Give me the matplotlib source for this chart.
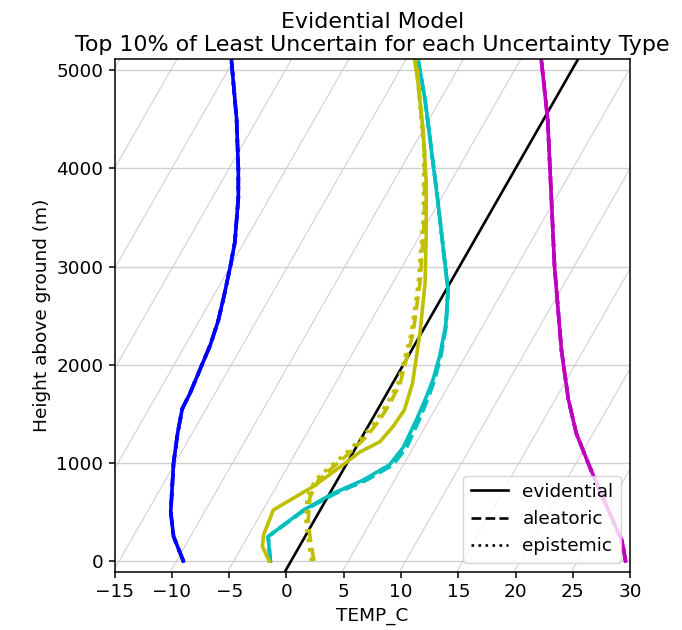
import numpy as np
import matplotlib
matplotlib.use('Agg')
import matplotlib.pyplot as plt
from matplotlib.lines import Line2D

# Profiles: heights (m) and temperatures (C)
blue_z = [0, 250, 500, 1000, 1300, 1550, 1700, 1950, 2200, 2450, 2700, 3000, 3250, 3700, 4000, 4500, 5100, 5200]
blue_t = [-9.0, -9.85, -10.1, -9.85, -9.5, -9.1, -8.45, -7.55, -6.65, -5.95, -5.45, -4.9, -4.5, -4.2, -4.2, -4.35, -4.8, -4.85]

magenta_z = [0, 200, 650, 950, 1300, 1650, 2150, 3000, 4000, 4500, 5100, 5200]
magenta_t = [29.6, 29.3, 27.6, 26.5, 25.3, 24.6, 24.0, 23.4, 23.0, 22.8, 22.25, 22.2]

cyan_z = [0, 250, 520, 690, 825, 980, 1160, 1440, 1670, 1850, 2100, 2400, 2760, 3170, 3680, 4190, 4700, 5100, 5200]
cyan_t = [-1.4, -1.6, 1.5, 4.1, 6.7, 9.0, 10.2, 11.35, 12.2, 12.8, 13.4, 13.9, 14.1, 13.7, 13.2, 12.65, 12.1, 11.5, 11.35]
cyan_t_alea = [-1.4, -1.6, 1.6, 4.3, 7.0, 9.3, 10.5, 11.6, 12.4, 12.95, 13.5, 13.95, 14.1, 13.7, 13.2, 12.65, 12.1, 11.5, 11.35]
cyan_t_epis = [-1.4, -1.6, 1.55, 4.2, 6.9, 9.2, 10.4, 11.5, 12.3, 12.9, 13.45, 13.9, 14.1, 13.7, 13.2, 12.65, 12.1, 11.5, 11.35]

yellow_z = [0, 150, 265, 520, 760, 960, 1110, 1215, 1370, 1540, 1810, 2320, 2830, 3340, 3850, 4360, 4860, 5100, 5200]
yellow_t = [-1.5, -2.1, -2.0, -1.15, 2.35, 4.7, 6.4, 8.15, 9.3, 10.3, 11.0, 11.65, 12.1, 12.2, 12.2, 11.95, 11.5, 11.2, 11.1]

yellow_z2 = [0, 250, 420, 650, 825, 960, 1100, 1270, 1440, 1610, 1800, 2320, 2830, 3500, 4190, 4700, 5100, 5200]
yellow_t_alea = [2.4, 2.05, 1.9, 2.05, 2.8, 4.1, 5.5, 7.0, 8.15, 9.05, 9.9, 11.05, 11.65, 12.05, 12.05, 11.65, 11.35, 11.3]
yellow_t_epis = [2.2, 1.85, 1.7, 1.8, 2.5, 3.8, 5.2, 6.7, 7.9, 8.8, 9.7, 10.9, 11.5, 11.95, 12.0, 11.6, 11.3, 11.25]

# skewed reference lines
skew_offset = 0.4      # C at ground for the black line
skew_rate = 0.0049     # C per metre
skew_starts = np.arange(-60, 35, 5)

x_ticks = [-15, -10, -5, 0, 5, 10, 15, 20, 25, 30]
y_ticks = [0, 1000, 2000, 3000, 4000, 5000]
legend_labels = ['evidential', 'aleatoric', 'epistemic']
styles = ['-', '--', ':']


def main():
    plt.rcParams['font.size'] = 13.3
    plt.rcParams['axes.linewidth'] = 1.1
    plt.rcParams['xtick.major.width'] = 1.1
    plt.rcParams['ytick.major.width'] = 1.1
    plt.rcParams['xtick.major.size'] = 4.5
    plt.rcParams['ytick.major.size'] = 4.5
    fig = plt.figure(figsize=(6.82, 6.30), dpi=100)
    ax = fig.add_axes([0.168, 0.092, 0.756, 0.814])

    zz = np.array([-200, 5300])
    for t0 in skew_starts:
        ax.plot(skew_offset + t0 + skew_rate * zz, zz, color='#cccccc', lw=0.7, zorder=1)
    ax.plot(skew_offset + skew_rate * zz, zz, color='black', lw=1.9, zorder=2)

    lw = 2.6
    for ls in styles:
        ax.plot(blue_t, blue_z, color='b', ls=ls, lw=lw)
        ax.plot(magenta_t, magenta_z, color='m', ls=ls, lw=lw)

    ax.plot(cyan_t, cyan_z, color='c', ls='-', lw=lw)
    ax.plot(cyan_t_alea, cyan_z, color='c', ls='--', lw=lw)
    ax.plot(cyan_t_epis, cyan_z, color='c', ls=':', lw=lw)

    ax.plot(yellow_t, yellow_z, color='y', ls='-', lw=lw)
    ax.plot(yellow_t_alea, yellow_z2, color='y', ls='--', lw=lw)
    ax.plot(yellow_t_epis, yellow_z2, color='y', ls=':', lw=lw)

    ax.set_xlim(-15, 30)
    ax.set_ylim(-112, 5112)
    ax.set_xticks(x_ticks)
    ax.set_yticks(y_ticks)
    ax.yaxis.grid(True, color='#d0d0d0', lw=1.0)
    ax.set_axisbelow(True)

    ax.set_xlabel('TEMP_C')
    ax.set_ylabel('Height above ground (m)')
    ax.set_title('Evidential Model\nTop 10% of Least Uncertain for each Uncertainty Type')

    handles = [Line2D([], [], color='black', ls=ls, lw=1.9) for ls in styles]
    ax.legend(handles, legend_labels, loc='lower right')

    fig.savefig('out.png', dpi=100)


if __name__ == "__main__":
    main()
